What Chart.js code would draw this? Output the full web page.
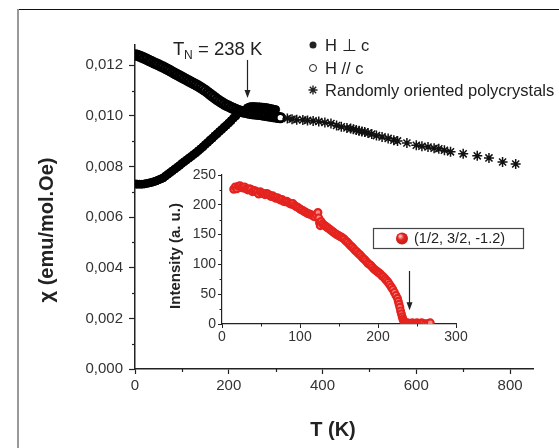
<!DOCTYPE html>
<html>
<head>
<meta charset="utf-8">
<script src="https://cdn.jsdelivr.net/npm/chart.js@4.4.0/dist/chart.umd.min.js"></script>
<style>
  html, body { margin: 0; padding: 0; background: #fff; }
  #wrap { position: relative; width: 559px; height: 448px; overflow: hidden; }
  #main { position: absolute; left: 0; top: 0; }
  #inset { position: absolute; left: 165px; top: 160px; }
</style>
</head>
<body>
<div id="wrap">
  <canvas id="main" width="559" height="448"></canvas>
  <canvas id="inset" width="365" height="190"></canvas>
</div>
<script>
// Susceptibility, H perpendicular to c (filled symbols)
const tempPerp = [2, 5, 10, 15, 20, 25, 30, 35, 40, 45, 50, 55, 60, 65, 70, 75, 80, 85, 90, 95,
  100, 105, 110, 115, 120, 125, 130, 135, 140, 145, 150, 155, 160, 165, 170, 175, 180, 185, 190, 195,
  200, 205, 210, 215, 220, 225, 230, 235, 240, 245, 250, 255, 260, 265, 270, 275, 280, 285, 290, 295, 300];
const chiPerp = [0.00731, 0.00730, 0.00730, 0.00730, 0.00731, 0.00733, 0.00735, 0.00737, 0.00740, 0.00743,
  0.00747, 0.00751, 0.00755, 0.00762, 0.00769, 0.00776, 0.00783, 0.00790, 0.00797, 0.00804,
  0.00812, 0.00819, 0.00826, 0.00833, 0.00840, 0.00847, 0.00854, 0.00862, 0.00870, 0.00878,
  0.00887, 0.00895, 0.00904, 0.00912, 0.00921, 0.00929, 0.00938, 0.00946, 0.00955, 0.00963,
  0.00972, 0.00981, 0.00991, 0.01000, 0.01010, 0.01015, 0.01020, 0.01024, 0.01032, 0.01036,
  0.01037, 0.01037, 0.01036, 0.01036, 0.01035, 0.01034, 0.01033, 0.01031, 0.01029, 0.01027, 0.01025];

// Susceptibility, H parallel to c (open symbols)
const tempPar = [2, 5, 10, 15, 20, 25, 30, 35, 40, 45, 50, 55, 60, 65, 70, 75, 80, 85, 90, 95,
  100, 105, 110, 115, 120, 125, 130, 135, 140, 145, 150, 155, 160, 165, 170, 175, 180, 185, 190, 195,
  200, 205, 210, 215, 220, 225, 230, 235, 240, 245, 250, 255, 260, 265, 270, 275, 280, 285, 290, 295,
  300, 305, 310];
const chiPar = [0.01241, 0.01239, 0.01236, 0.01232, 0.01228, 0.01224, 0.01219, 0.01215, 0.01210, 0.01206,
  0.01202, 0.01197, 0.01193, 0.01188, 0.01183, 0.01178, 0.01173, 0.01168, 0.01163, 0.01158,
  0.01153, 0.01148, 0.01143, 0.01138, 0.01133, 0.01128, 0.01123, 0.01118, 0.01112, 0.01106,
  0.01100, 0.01093, 0.01086, 0.01079, 0.01072, 0.01065, 0.01059, 0.01053, 0.01047, 0.01042,
  0.01038, 0.01033, 0.01029, 0.01025, 0.01021, 0.01018, 0.01016, 0.01014, 0.01012, 0.01010,
  0.01009, 0.01008, 0.01007, 0.01006, 0.01005, 0.01003, 0.01002, 0.01000, 0.00999, 0.00997,
  0.00996, 0.00994, 0.00993];

// Randomly oriented polycrystals (stars)
const tempPoly = [325, 335, 345, 358, 368, 380, 392, 405, 418, 430, 440, 452, 460, 466, 472, 478, 484,
  490, 497, 505, 515, 527, 540, 552, 560, 580, 600, 612, 625, 638, 648, 660, 673, 700, 730, 755, 784, 812];
const chiPoly = [0.00990, 0.00987, 0.00985, 0.00984, 0.00982, 0.00980, 0.00978, 0.00974, 0.00970, 0.00962,
  0.00957, 0.00952, 0.00950, 0.00947, 0.00944, 0.00941, 0.00938, 0.00936, 0.00932, 0.00928,
  0.00922, 0.00917, 0.00911, 0.00904, 0.00901, 0.00893, 0.00884, 0.00880, 0.00877, 0.00872,
  0.00870, 0.00864, 0.00858, 0.00850, 0.00842, 0.00834, 0.00818, 0.00810];

const chiTicks = [0, 0.002, 0.004, 0.006, 0.008, 0.010, 0.012];
const tempTicks = [0, 200, 400, 600, 800];

// Neutron intensity of the (1/2, 3/2, -1.2) reflection
const tempInset = [15, 17, 19, 21, 23, 25, 27, 29, 31, 33, 35, 37, 39, 41, 43, 45, 47, 49, 51, 53,
  55, 57, 59, 61, 63, 65, 67, 69, 71, 73, 75, 77, 79, 81, 83, 85, 87, 89, 91, 93,
  95, 97, 99, 101, 103, 105, 107, 109, 111, 113, 115, 117, 119, 121, 123, 124, 125, 126, 127, 129,
  131, 133, 135, 137, 139, 141, 143, 145, 147, 149, 151, 153, 155, 157, 159, 161, 163, 165, 167, 169,
  171, 173, 175, 177, 179, 181, 183, 185, 187, 189, 191, 193, 195, 197, 199, 201, 203, 205, 207, 209,
  211, 213, 215, 217, 219, 221, 223, 225, 226, 227, 228, 229, 230, 231, 232, 233, 234, 236, 238, 240,
  242, 244, 246, 248, 250, 252, 254, 256, 258, 261, 264, 267];
const intensityInset = [226, 230, 227, 231, 232, 229, 228, 230, 227, 225, 227, 226, 222, 224, 223, 221, 218, 222, 220, 219,
  217, 219, 218, 216, 214, 215, 213, 211, 212, 210, 208, 209, 206, 205, 206, 204, 202, 201, 202, 199,
  197, 196, 194, 192, 191, 189, 188, 186, 185, 184, 183, 181, 180, 183, 187, 178, 170, 165, 172, 168,
  166, 164, 162, 160, 158, 156, 154, 152, 150, 149, 147, 146, 144, 142, 139, 137, 134, 131, 129, 126,
  123, 121, 118, 116, 113, 110, 108, 105, 102, 100, 98, 95, 92, 90, 88, 86, 84, 81, 79, 76,
  73, 70, 66, 62, 58, 53, 48, 43, 38, 33, 28, 22, 17, 12, 8, 5, 2, 1, 2, 0,
  1, 2, 0, 1, 2, 1, 0, 2, 1, 0, 1, 2];
const intensityTicks = [0, 50, 100, 150, 200, 250];
const insetTempTicks = [0, 100, 200, 300];

const T_NEEL = 238;
const FONT = "'Liberation Sans', Arial, sans-serif";
const INK = "#222";
const RED = "#e4231f";

const toPoints = (xs, ys) => xs.map((x, i) => ({ x: x, y: ys[i] }));
const commaFmt = (v) => v.toFixed(3).replace(".", ",");

function arrowDown(ctx, x, y0, y1) {
  ctx.beginPath();
  ctx.moveTo(x, y0);
  ctx.lineTo(x, y1 - 6);
  ctx.stroke();
  ctx.beginPath();
  ctx.moveTo(x - 3, y1 - 8);
  ctx.lineTo(x + 3, y1 - 8);
  ctx.lineTo(x, y1);
  ctx.closePath();
  ctx.fill();
}

function drawStar(ctx, x, y, r) {
  ctx.beginPath();
  for (let k = 0; k < 4; k++) {
    const a = k * Math.PI / 4;
    ctx.moveTo(x - r * Math.cos(a), y - r * Math.sin(a));
    ctx.lineTo(x + r * Math.cos(a), y + r * Math.sin(a));
  }
  ctx.stroke();
}

// frame, minor ticks, titles, legend and the T_N marker of the main panel
const mainDecor = {
  id: "mainDecor",
  beforeDraw(chart) {
    const ctx = chart.ctx;
    ctx.save();
    ctx.fillStyle = "#fff";
    ctx.fillRect(0, 0, chart.width, chart.height);
    ctx.strokeStyle = "#111";
    ctx.lineWidth = 1.2;
    ctx.beginPath();
    ctx.moveTo(17, 9.5);
    ctx.lineTo(chart.width, 9.5);
    ctx.stroke();
    ctx.strokeStyle = "#999";
    ctx.lineWidth = 2;
    ctx.beginPath();
    ctx.moveTo(18, 9);
    ctx.lineTo(18, chart.height);
    ctx.stroke();
    ctx.restore();
  },
  afterDraw(chart) {
    const ctx = chart.ctx;
    const xs = chart.scales.x, ys = chart.scales.y;
    const area = chart.chartArea;
    ctx.save();
    ctx.strokeStyle = INK;
    ctx.fillStyle = INK;
    ctx.lineWidth = 1.2;

    // minor ticks
    [100, 300, 500, 700].forEach((t) => {
      const px = Math.round(xs.getPixelForValue(t)) + 0.5;
      ctx.beginPath();
      ctx.moveTo(px, area.bottom);
      ctx.lineTo(px, area.bottom + 3);
      ctx.stroke();
    });
    [0.001, 0.003, 0.005, 0.007, 0.009, 0.011].forEach((v) => {
      const py = Math.round(ys.getPixelForValue(v)) + 0.5;
      ctx.beginPath();
      ctx.moveTo(area.left, py);
      ctx.lineTo(area.left - 3, py);
      ctx.stroke();
    });

    // axis titles
    ctx.font = "bold 20px " + FONT;
    ctx.textAlign = "center";
    ctx.textBaseline = "middle";
    ctx.fillText("T (K)", 333, 430);
    ctx.save();
    ctx.translate(47, 230);
    ctx.rotate(-Math.PI / 2);
    ctx.fillText("\u03c7 (emu/mol.Oe)", 0, 0);
    ctx.restore();

    // legend
    const lx = 313, rows = [45, 68, 90];
    ctx.font = "16.5px " + FONT;
    ctx.textAlign = "left";
    ctx.beginPath();
    ctx.arc(lx, rows[0], 3.5, 0, Math.PI * 2);
    ctx.fill();
    ctx.fillText("H \u22a5 c", 325, rows[0] + 1);
    ctx.beginPath();
    ctx.arc(lx, rows[1], 3.5, 0, Math.PI * 2);
    ctx.lineWidth = 1;
    ctx.stroke();
    ctx.fillText("H // c", 325, rows[1] + 1);
    ctx.lineWidth = 1.4;
    drawStar(ctx, lx, rows[2], 4.5);
    ctx.fillText("Randomly oriented polycrystals", 325, rows[2] + 1);

    // Neel temperature
    ctx.textBaseline = "alphabetic";
    ctx.font = "18.5px " + FONT;
    ctx.fillText("T", 173, 55);
    ctx.font = "12px " + FONT;
    ctx.fillText("N", 184, 59);
    ctx.font = "18.5px " + FONT;
    ctx.fillText("= 238 K", 198, 55);
    ctx.lineWidth = 1.2;
    arrowDown(ctx, Math.round(xs.getPixelForValue(T_NEEL)) + 0.5,
      ys.getPixelForValue(0.01221), ys.getPixelForValue(0.01071));
    ctx.restore();
  }
};

new Chart(document.getElementById("main"), {
  type: "scatter",
  data: {
    datasets: [
      {
        label: "Randomly oriented polycrystals",
        data: toPoints(tempPoly, chiPoly),
        pointStyle: "star",
        radius: 5,
        borderWidth: 1.5,
        borderColor: "#111",
        backgroundColor: "#111"
      },
      {
        label: "H \u22a5 c",
        data: toPoints(tempPerp, chiPerp),
        pointStyle: "circle",
        radius: 4,
        borderWidth: 1,
        borderColor: "#000",
        backgroundColor: "#000"
      },
      {
        label: "H // c",
        data: toPoints(tempPar, chiPar),
        pointStyle: "circle",
        radius: 4.2,
        borderWidth: 3,
        borderColor: "#000",
        backgroundColor: "#fff"
      }
    ]
  },
  options: {
    responsive: false,
    animation: false,
    devicePixelRatio: 1,
    layout: { padding: { top: 45, right: 25.5, left: 0, bottom: 0 } },
    plugins: { legend: { display: false }, tooltip: { enabled: false } },
    scales: {
      x: {
        type: "linear",
        min: 0,
        max: 850,
        bounds: "data",
        afterFit: (s) => { s.height = 79; },
        afterBuildTicks: (s) => { s.ticks = tempTicks.map((v) => ({ value: v })); },
        border: { color: INK, width: 1.5 },
        grid: { drawOnChartArea: false, color: INK, tickLength: 5, tickWidth: 1.2 },
        ticks: { color: "#333", padding: 3, maxRotation: 0, font: { family: FONT, size: 15 } }
      },
      y: {
        type: "linear",
        min: 0,
        max: 0.0128,
        bounds: "data",
        afterFit: (s) => { s.width = 135; },
        afterBuildTicks: (s) => { s.ticks = chiTicks.map((v) => ({ value: v })); },
        border: { color: INK, width: 1.5 },
        grid: { drawOnChartArea: false, color: INK, tickLength: 6, tickWidth: 1.2 },
        ticks: { color: "#333", padding: 6, font: { family: FONT, size: 15 }, callback: commaFmt }
      }
    }
  },
  plugins: [mainDecor]
});

// minor ticks, title, legend box and arrow of the inset
const insetDecor = {
  id: "insetDecor",
  afterDraw(chart) {
    const ctx = chart.ctx;
    const xs = chart.scales.x, ys = chart.scales.y;
    const area = chart.chartArea;
    ctx.save();
    ctx.strokeStyle = INK;
    ctx.fillStyle = INK;
    ctx.lineWidth = 1;
    [50, 150, 250].forEach((t) => {
      const px = Math.round(xs.getPixelForValue(t)) + 0.5;
      ctx.beginPath();
      ctx.moveTo(px, area.bottom);
      ctx.lineTo(px, area.bottom + 2.5);
      ctx.stroke();
    });
    [25, 75, 125, 175, 225].forEach((v) => {
      const py = Math.round(ys.getPixelForValue(v)) + 0.5;
      ctx.beginPath();
      ctx.moveTo(area.left, py);
      ctx.lineTo(area.left - 2.5, py);
      ctx.stroke();
    });

    ctx.font = "bold 15px " + FONT;
    ctx.textAlign = "center";
    ctx.textBaseline = "middle";
    ctx.save();
    ctx.translate(11, 96);
    ctx.rotate(-Math.PI / 2);
    ctx.fillText("Intensity (a. u.)", 0, 0);
    ctx.restore();

    // legend box
    ctx.strokeStyle = "#444";
    ctx.lineWidth = 1.2;
    ctx.strokeRect(208.5, 68.5, 150, 20);
    const g = ctx.createRadialGradient(235, 76, 0.5, 237, 78, 6.5);
    g.addColorStop(0, "#ffc8c0");
    g.addColorStop(0.45, RED);
    g.addColorStop(1, "#c21d18");
    ctx.fillStyle = g;
    ctx.beginPath();
    ctx.arc(237, 78.5, 6, 0, Math.PI * 2);
    ctx.fill();
    ctx.fillStyle = INK;
    ctx.textAlign = "left";
    ctx.font = "14.5px " + FONT;
    ctx.fillText("(1/2, 3/2, -1.2)", 249, 79);

    ctx.strokeStyle = INK;
    ctx.lineWidth = 1.2;
    arrowDown(ctx, Math.round(xs.getPixelForValue(240)) + 0.5,
      ys.getPixelForValue(89), ys.getPixelForValue(23));
    ctx.restore();
  }
};

new Chart(document.getElementById("inset"), {
  type: "scatter",
  data: {
    datasets: [{
      label: "(1/2, 3/2, -1.2)",
      data: toPoints(tempInset, intensityInset),
      pointStyle: "circle",
      radius: 3.4,
      borderWidth: 2.2,
      borderColor: RED,
      backgroundColor: "#ff8a84"
    }]
  },
  options: {
    responsive: false,
    animation: false,
    devicePixelRatio: 1,
    layout: { padding: { top: 15, right: 74, left: 0, bottom: 0 } },
    plugins: { legend: { display: false }, tooltip: { enabled: false } },
    scales: {
      x: {
        type: "linear",
        min: 0,
        max: 300,
        bounds: "data",
        afterFit: (s) => { s.height = 26; },
        afterBuildTicks: (s) => { s.ticks = insetTempTicks.map((v) => ({ value: v })); },
        border: { color: INK, width: 1.2 },
        grid: { drawOnChartArea: false, color: INK, tickLength: 4, tickWidth: 1 },
        ticks: { color: "#333", padding: 1, maxRotation: 0, font: { family: FONT, size: 14 } }
      },
      y: {
        type: "linear",
        min: 0,
        max: 250,
        bounds: "data",
        afterFit: (s) => { s.width = 57; },
        afterBuildTicks: (s) => { s.ticks = intensityTicks.map((v) => ({ value: v })); },
        border: { color: INK, width: 1.2 },
        grid: { drawOnChartArea: false, color: INK, tickLength: 4, tickWidth: 1 },
        ticks: { color: "#333", padding: 2, font: { family: FONT, size: 14 } }
      }
    }
  },
  plugins: [insetDecor]
});
</script>
</body>
</html>
